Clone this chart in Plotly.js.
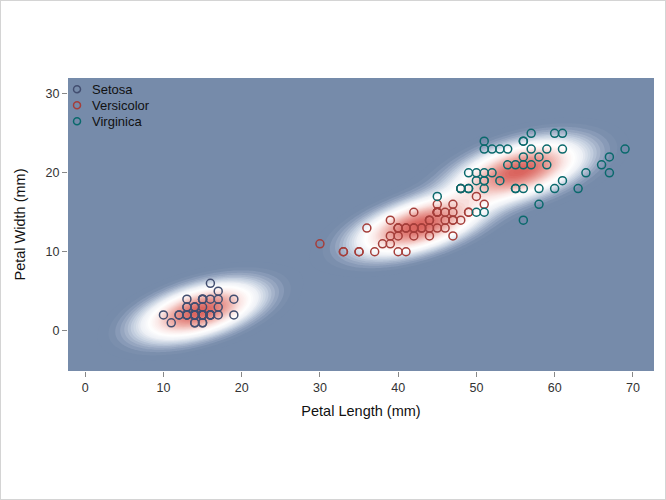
<!DOCTYPE html>
<html>
<head>
<meta charset="utf-8">
<script src="https://cdn.plot.ly/plotly-3.0.1.min.js"></script>
<style>
  html, body { margin: 0; padding: 0; background: #fff; }
  #chart { width: 664px; height: 498px; border: 1px solid #d4d4d4; }
</style>
</head>
<body>
<div id="chart"></div>
<script>
// ---- Data (Fisher iris, mm) ----
const species = ["Setosa", "Versicolor", "Virginica"];

const setosaLength = [14,14,13,15,14,17,14,15,14,15,15,16,14,11,12,15,13,14,17,15,17,15,10,17,19,16,16,15,14,16,16,15,15,14,15,12,13,14,13,15,13,13,13,16,19,14,16,14,15,14];
const setosaWidth  = [2,2,2,2,2,4,3,2,2,1,2,2,1,1,2,4,4,3,3,3,2,4,2,5,2,2,4,2,2,2,2,4,1,2,2,2,2,1,2,2,3,3,2,6,4,3,2,2,2,2];

const versicolorLength = [47,45,49,40,46,45,47,33,46,39,35,42,40,47,36,44,45,41,45,39,48,40,49,47,43,44,48,50,45,35,38,37,39,51,45,45,47,44,41,40,44,46,40,33,42,42,42,43,30,41];
const versicolorWidth  = [14,15,15,13,15,13,16,10,13,14,10,15,10,14,13,14,15,10,15,11,18,13,15,12,13,14,14,17,15,10,11,10,12,16,15,16,15,13,13,13,12,14,12,10,13,12,13,13,11,13];

const virginicaLength = [60,51,59,56,58,66,45,63,58,61,51,53,55,50,51,53,55,67,69,50,57,49,67,49,57,60,48,49,56,58,61,64,56,51,56,61,56,55,48,54,56,51,51,59,57,52,50,52,54,51];
const virginicaWidth  = [25,19,21,18,22,21,17,18,18,25,20,19,21,20,24,23,18,22,23,15,23,20,20,18,21,18,18,18,21,16,19,20,22,15,14,23,24,18,18,21,24,23,19,23,25,23,19,20,23,18];

const xTicks = [0,10,20,30,40,50,60,70];
const yTicks = [0,10,20,30];

// ---- Styling / smoothing parameters ----
const bg = "rgb(118,139,170)";
const edgeColors = ["rgb(66,78,112)", "rgb(165,62,58)", "rgb(10,105,108)"];
const ownCovWeight = 0.12;
const smoothCov = [[21.5, 5.2], [5.2, 4.9]];
const xRange = [-2.2, 72.7];
const yRange = [-5.1, 32.0];

const groups = [
  [setosaLength, setosaWidth],
  [versicolorLength, versicolorWidth],
  [virginicaLength, virginicaWidth]
];

function stats(xs, ys) {
  const n = xs.length;
  const mx = xs.reduce((a,b)=>a+b,0)/n;
  const my = ys.reduce((a,b)=>a+b,0)/n;
  let sxx=0, syy=0, sxy=0;
  for (let i=0;i<n;i++){ const dx=xs[i]-mx, dy=ys[i]-my; sxx+=dx*dx; syy+=dy*dy; sxy+=dx*dy; }
  return {mx, my, sxx:sxx/(n-1), syy:syy/(n-1), sxy:sxy/(n-1)};
}

const models = groups.map(([xs, ys]) => {
  const s = stats(xs, ys);
  const a = ownCovWeight*s.sxx + smoothCov[0][0];
  const d = ownCovWeight*s.syy + smoothCov[1][1];
  const b = ownCovWeight*s.sxy + smoothCov[0][1];
  const det = a*d - b*b;
  return {mx:s.mx, my:s.my, ia: d/det, id: a/det, ib: -b/det};
});

const gx = [], gy = [];
for (let x = xRange[0]; x <= xRange[1] + 1e-9; x += 0.25) gx.push(x);
for (let y = yRange[0]; y <= yRange[1] + 1e-9; y += 0.2) gy.push(y);
const z = gy.map(y => gx.map(x => {
  let v = 0;
  for (const m of models) {
    const dx = x - m.mx, dy = y - m.my;
    const q = m.ia*dx*dx + 2*m.ib*dx*dy + m.id*dy*dy;
    v += Math.exp(-0.5*q);
  }
  return Math.min(v, 1);
}));

const colorscale = [
  [0.00, bg],
  [0.03, bg],
  [0.09, "rgb(150,166,192)"],
  [0.17, "rgb(196,207,223)"],
  [0.27, "rgb(238,241,246)"],
  [0.38, "rgb(255,255,255)"],
  [0.52, "rgb(250,232,230)"],
  [0.72, "rgb(238,176,170)"],
  [1.00, "rgb(218,100,94)"]
];

const traces = [{
  type: "contour",
  x: gx, y: gy, z: z,
  zmin: 0, zmax: 1,
  colorscale: colorscale,
  showscale: false,
  hoverinfo: "skip",
  showlegend: false,
  contours: { coloring: "fill", start: 0.02, end: 1.0, size: 0.025, showlines: false },
  line: { width: 0 }
}];

species.forEach((name, i) => {
  traces.push({
    type: "scatter",
    mode: "markers",
    name: name,
    showlegend: false,
    x: groups[i][0],
    y: groups[i][1],
    marker: { symbol: "circle-open", size: 8, color: edgeColors[i], line: { width: 1.5, color: edgeColors[i] } }
  });
});

// ---- Custom compact legend (top-left inside plot) ----
const font = "Liberation Sans, Arial, sans-serif";
const legendX = 0.0154, legendTextX = 0.037;
const legendY = [0.962, 0.907, 0.852];
const shapes = [], annotations = [];
species.forEach((name, i) => {
  shapes.push({
    type: "circle", xref: "paper", yref: "paper",
    xsizemode: "pixel", ysizemode: "pixel",
    xanchor: legendX, yanchor: legendY[i],
    x0: -3.5, x1: 3.5, y0: -3.5, y1: 3.5,
    line: { color: edgeColors[i], width: 1.5 }, fillcolor: "rgba(0,0,0,0)"
  });
  annotations.push({
    xref: "paper", yref: "paper", x: legendTextX, y: legendY[i],
    xanchor: "left", yanchor: "middle", showarrow: false,
    text: name, font: { family: font, size: 13, color: "#111" }
  });
});

const layout = {
  width: 664, height: 498,
  margin: { l: 67, r: 11, t: 77, b: 128 },
  paper_bgcolor: "#ffffff",
  plot_bgcolor: bg,
  font: { family: font, size: 12, color: "#333" },
  showlegend: false,
  shapes: shapes,
  annotations: annotations,
  xaxis: {
    range: xRange, tickvals: xTicks, ticks: "outside", ticklen: 5, tickwidth: 1, tickcolor: "#888",
    showgrid: false, zeroline: false, showline: false, automargin: false,
    tickfont: { family: font, size: 12.5, color: "#333" },
    title: { text: "Petal Length (mm)", font: { family: font, size: 14.5, color: "#111" }, standoff: 11 }
  },
  yaxis: {
    range: yRange, tickvals: yTicks, ticks: "outside", ticklen: 5, tickwidth: 1, tickcolor: "#888",
    showgrid: false, zeroline: false, showline: false, automargin: false,
    tickfont: { family: font, size: 12.5, color: "#333" },
    title: { text: "Petal Width (mm)", font: { family: font, size: 14.5, color: "#111" }, standoff: 16 }
  }
};

Plotly.newPlot("chart", traces, layout, { displayModeBar: false, staticPlot: true });
</script>
</body>
</html>
